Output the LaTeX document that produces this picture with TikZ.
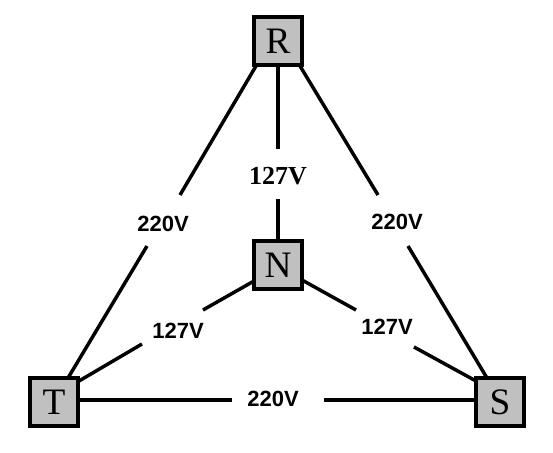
\documentclass[tikz,border=0pt]{standalone}
\usepackage{fontspec}
\setmainfont{Liberation Serif}
\newfontfamily\lblfont{Liberation Sans}
\begin{document}
\begin{tikzpicture}[x=0.75pt,y=-0.75pt,
  box/.style={draw=black,fill={rgb,255:red,192;green,192;blue,192},line width=2.6pt,
    minimum size=36pt,inner sep=0pt,outer sep=0pt,font=\fontsize{28}{30}\selectfont},
  wire/.style={line width=2.6pt,black},
  vlbl/.style={inner sep=0pt,font=\lblfont\bfseries\fontsize{16.5}{18}\selectfont},
  slbl/.style={inner sep=0pt,font=\bfseries\fontsize{19.5}{21}\selectfont}]
\useasboundingbox (0,0) rectangle (553,453);
% boxes positions
\coordinate (Rc) at (278,41);
\coordinate (Nc) at (278,265);
\coordinate (Tc) at (54,402);
\coordinate (Sc) at (500,402);
% gap end points
\coordinate (rt1) at (180,195); \coordinate (rt2) at (147,246);
\coordinate (rs1) at (378,195); \coordinate (rs2) at (408,246);
\coordinate (rn1) at (278,149); \coordinate (rn2) at (278,199);
\coordinate (nt1) at (203,310); \coordinate (nt2) at (142,344);
\coordinate (ns1) at (356,310); \coordinate (ns2) at (414,347);
\coordinate (ts1) at (232,400); \coordinate (ts2) at (324,400);
% wires
\draw[wire] (256,66) -- (rt1);
\draw[wire] (rt2) -- (68,378);
\draw[wire] (300,66) -- (rs1);
\draw[wire] (rs2) -- (487,378);
\draw[wire] (278,66) -- (rn1);
\draw[wire] (rn2) -- (278,241);
\draw[wire] (254,281) -- (nt1);
\draw[wire] (nt2) -- (79,381);
\draw[wire] (302,280) -- (ns1);
\draw[wire] (ns2) -- (476,381);
\draw[wire] (79,400) -- (ts1);
\draw[wire] (ts2) -- (476,400);
% boxes
\node[box] (R) at (Rc) {R};
\node[box] (N) at (Nc) {N};
\node[box] (T) at (Tc) {T};
\node[box] (S) at (Sc) {S};
% labels
\node[vlbl] (lrt) at (163,224) {220V};
\node[vlbl] (lrs) at (397,222) {220V};
\node[vlbl] (lts) at (273,399) {220V};
\node[vlbl] (lnt) at (178,331) {127V};
\node[vlbl] (lns) at (387,327) {127V};
\node[slbl] (lrn) at (278,176) {127V};
\end{tikzpicture}
\end{document}
